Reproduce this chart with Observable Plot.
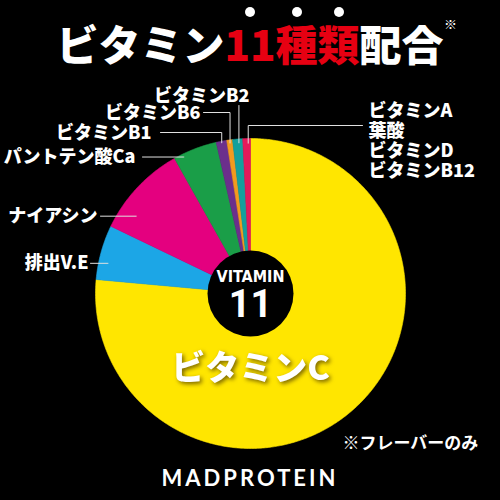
<!DOCTYPE html>
<html><head><meta charset="utf-8">
<script src="https://cdn.jsdelivr.net/npm/d3@7"></script>
<script src="https://cdn.jsdelivr.net/npm/@observablehq/plot@0.6"></script>
<style>
html,body{margin:0;padding:0;background:#000;width:500px;height:500px;overflow:hidden;}
body{font-family:"Noto Sans CJK JP","Noto Sans",sans-serif;color:#fff;}
#title{height:78px;position:relative;}
#title .t{position:absolute;left:0;right:0;top:22px;text-align:center;font-size:42px;font-weight:900;line-height:42px;white-space:nowrap;}
#title .red{color:#e60012;}
#title .dot{position:relative;}
#title .dot::before{content:"";position:absolute;width:10px;height:10px;border-radius:50%;background:#fff;left:50%;top:-5px;transform:translateX(-50%);}
#title .note{position:absolute;left:444px;top:14px;font-size:13px;font-weight:700;}
#chart{height:382px;}
#foot{height:40px;display:flex;align-items:center;justify-content:center;padding-bottom:6px;box-sizing:border-box;font-family:Lato,"Open Sans",sans-serif;font-weight:700;font-size:22px;letter-spacing:3px;}
</style>
</head><body>
<div id="title"></div>
<div id="chart"></div>
<div id="foot"></div>
<script>
// ---- data ----
const titleParts = ["ビタミン", "11", "種", "類", "配合"];
const titleNote = "※";
const categories = ["ビタミンC", "排出V.E", "ナイアシン", "パントテン酸Ca", "ビタミンB1", "ビタミンB6", "ビタミンB2", "ビタミンA\n葉酸\nビタミンD\nビタミンB12"];
const values = [76.4, 5.7, 9.7, 4.6, 1.1, 0.6, 1.05, 0.8];
const colors = ["#ffe600", "#1ca6e6", "#e4007f", "#1a9e48", "#6b2f8c", "#f39a1e", "#14a09c", "#e5195a"];
const centerTexts = ["VITAMIN", "11"];
const footnote = "※フレーバーのみ";
const brand = "MADPROTEIN";

// ---- title / footer ----
document.getElementById("title").innerHTML =
  `<div class="t">${titleParts[0]}<span class="red"><span class="dot">${titleParts[1]}</span><span class="dot">${titleParts[2]}</span><span class="dot">${titleParts[3]}</span></span>${titleParts[4]}</div><span class="note">${titleNote}</span>`;
document.getElementById("foot").textContent = brand;

// ---- layout ----
const W = 500, H = 382, CX = 250, CY = 215, R = 155;
const ux = px => (px - CX) / R, uy = py => (CY - py) / R;
const labelLayout = [
  null,
  {t: .33, r: .94, lineEndX: 90, tx: 88, side: "left"},
  {t: .24, r: .89, lineEndX: 100, tx: 97, side: "left"},
  {t: .20, r: .98, lineEndX: 142, tx: 135, side: "left"},
  {t: .5, r: .99, lineY: 54, lineEndX: 160, tx: 151, ty: 55, side: "left"},
  {t: .5, r: .98, lineY: 34, lineEndX: 203, tx: 200, ty: 35, side: "left"},
  {t: .6, r: .975, lineY: 27, lineEndX: null, tx: 249, ty: 18, side: "left"},
  {t: .7, r: .97, lineY: 47, lineEndX: 362, tx: 368, ty: 62, side: "right"}
];

const slices = categories.map((c, i) => ({cat: c, value: values[i], color: colors[i]}));
const arcs = d3.pie().sort(null).value(d => d.value)(slices);

const polys = arcs.flatMap((a, i) => {
  const n = Math.max(2, Math.ceil((a.endAngle - a.startAngle) / 0.01));
  const pts = [{k: i, x: 0, y: 0, c: a.data.color}];
  for (let j = 0; j <= n; j++) {
    const t = a.startAngle + (a.endAngle - a.startAngle) * j / n;
    pts.push({k: i, x: Math.sin(t), y: Math.cos(t), c: a.data.color});
  }
  pts.push({k: i, x: 0, y: 0, c: a.data.color});
  return pts;
});

const leaders = [], labels = [];
arcs.forEach((a, i) => {
  const L = labelLayout[i];
  if (!L) return;
  const ang = a.startAngle + L.t * (a.endAngle - a.startAngle);
  const ax = L.r * Math.sin(ang), ay = L.r * Math.cos(ang);
  const ly = L.lineY != null ? uy(L.lineY) : ay;
  leaders.push({k: i, x: ax, y: ay});
  leaders.push({k: i, x: ax, y: ly});
  if (L.lineEndX != null) leaders.push({k: i, x: ux(L.lineEndX), y: ly});
  labels.push({x: ux(L.tx), y: L.ty != null ? uy(L.ty) : ay, text: a.data.cat, side: L.side});
});

const font = "Noto Sans CJK JP";
const chart = Plot.plot({
  width: W, height: H, margin: 0,
  x: {domain: [ux(0), ux(W)], axis: null},
  y: {domain: [uy(H), uy(0)], axis: null},
  color: {type: "identity"},
  style: {background: "#000", overflow: "visible"},
  marks: [
    Plot.line(polys, {x: "x", y: "y", z: "k", fill: "c", stroke: "c", strokeWidth: 0.6, curve: "linear"}),
    Plot.line(leaders, {x: "x", y: "y", z: "k", stroke: "#e0e0e0", strokeWidth: 1}),
    Plot.text(labels.filter(d => d.side === "left"), {x: "x", y: "y", text: "text", textAnchor: "end", fill: "#fff", fontSize: 18, fontWeight: 900, fontFamily: font}),
    Plot.text(labels.filter(d => d.side === "right"), {x: "x", y: "y", text: "text", textAnchor: "start", lineHeight: 1.11, fill: "#fff", fontSize: 18, fontWeight: 900, fontFamily: font}),
    Plot.dot([{x: 0, y: 0}], {x: "x", y: "y", r: 43, fill: "#000", stroke: "none"}),
    Plot.text([centerTexts[0]], {x: () => 0, y: () => 0, text: d => d, dy: -17, fill: "#fff", fontSize: 16, fontWeight: 700, fontFamily: "DejaVu Sans Condensed"}),
    Plot.text([centerTexts[1]], {x: () => 0, y: () => 0, text: d => d, dy: 11, fill: "#fff", fontSize: 38, fontWeight: 700, fontFamily: "Roboto"}),
    Plot.text([categories[0]], {x: () => 0, y: () => 0, text: d => d, dy: 76, fill: "#fff", fontSize: 34, fontWeight: 900, fontFamily: font}),
    Plot.text([footnote], {x: () => ux(342), y: () => uy(365), text: d => d, textAnchor: "start", fill: "#fff", fontSize: 17, fontWeight: 700, fontFamily: font})
  ]
});
// soft shadow under the big centre label
d3.select(chart).selectAll("text").filter(function () { return this.textContent === categories[0]; })
  .style("filter", "drop-shadow(2px 2px 2px rgba(90,70,0,0.8))");
document.getElementById("chart").appendChild(chart);
</script>
</body></html>
